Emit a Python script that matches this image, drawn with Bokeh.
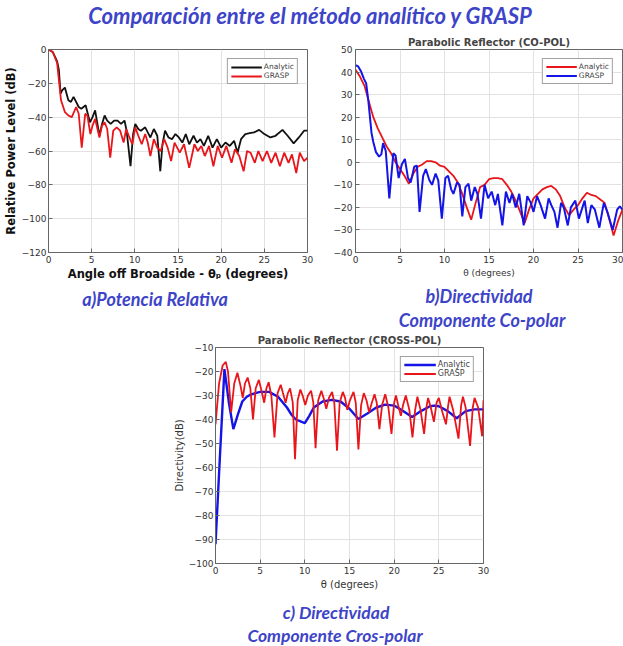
from bokeh.plotting import figure
from bokeh.models import Range1d, FixedTicker, Div, Spacer
from bokeh.layouts import column, row
from bokeh.embed import file_html
from bokeh.resources import INLINE

# ---------------- data ----------------
# (a) Relative power level
a_an_x = [0, 0.5, 1.0, 1.2, 1.4, 1.6, 1.9, 2.3, 2.6, 2.9, 3.2, 3.5, 3.8, 4.3, 4.8, 5.1, 5.4, 5.9, 6.2, 6.5,
          6.8, 7.2, 7.6, 8.0, 8.4, 8.8, 9.05, 9.5, 9.8, 10.05, 10.4, 10.7, 11.2, 11.5, 11.8, 12.2, 12.6, 12.95,
          13.2, 13.5, 13.9, 14.3, 14.7, 15.1, 15.5, 15.9, 16.3, 16.8, 17.2, 17.6, 18.0, 18.5, 19.0, 19.5, 20.0,
          20.5, 21.0, 21.5, 21.9, 22.3, 22.8, 23.3, 23.8, 24.4, 25.0, 25.7, 26.3, 27.1, 27.7, 28.4, 29.0, 29.6, 30.0]
a_an_y = [0, -1.5, -7, -12, -26, -24, -22.5, -30, -31, -28, -31, -34, -35, -33, -43, -40, -36, -51, -44, -39,
          -42, -44, -42, -42, -44, -42, -48, -69, -50, -44, -47, -48, -46, -49, -52, -47, -51, -72,
          -56, -48, -52, -53, -50, -52, -55, -50, -56, -51, -55, -53, -57, -51, -58, -53, -58,
          -55, -57, -54, -61, -53, -50, -49.5, -49, -47.5, -50, -52, -51, -47.5, -51, -55.5, -52, -48, -48]
a_gr_x = [0, 0.5, 1.0, 1.45, 1.9, 2.3, 2.7, 3.2, 3.5, 3.85, 4.25, 4.5, 4.85, 5.1, 5.4, 5.9, 6.2, 6.5, 6.8, 7.15,
          7.5, 7.9, 8.3, 8.7, 9.0, 9.3, 9.7, 10.05, 10.4, 10.8, 11.2, 11.5, 11.8, 12.2, 12.6, 13.0, 13.4, 13.8,
          14.2, 14.6, 15.2, 15.7, 16.3, 16.9, 17.3, 17.7, 18.1, 18.6, 19.1, 19.6, 20.1, 20.6, 21.2, 21.6, 22.1,
          22.6, 23.0, 23.4, 23.9, 24.3, 24.8, 25.3, 25.8, 26.3, 26.8, 27.3, 27.8, 28.2, 28.7, 29.1, 29.6, 30.0]
a_gr_y = [0, -1.5, -8, -30, -37, -39, -40, -34, -38, -58, -38, -39, -50, -45, -41, -52, -45, -43, -47, -64,
          -48, -46, -48, -55, -47, -51, -56, -46, -51, -56, -50, -55, -63, -53, -58, -60, -53, -58,
          -66, -55, -61, -56, -70, -56, -60, -57, -63, -57, -69, -57, -64, -57, -67, -59, -63,
          -72, -60, -61, -67, -60, -66, -60, -67, -61, -69, -61, -67, -62, -73, -61, -66, -64]

# (b) Co-polar directivity
b_an_x = [0, 0.5, 1.0, 1.5, 2.0, 2.5, 3.0, 3.5, 4.0, 4.5, 5.0, 5.5, 6.0, 6.5, 7.0, 7.5, 8.0, 8.5, 9.0, 9.5,
          10.0, 10.5, 11.0, 11.5, 12.0, 12.5, 13.0, 13.5, 14.0, 14.5, 15.0, 15.5, 16.0, 16.5, 17.0, 17.5, 18.0,
          18.5, 19.0, 19.5, 20.0, 20.5, 21.0, 21.5, 22.0, 22.5, 23.0, 23.5, 24.0, 24.5, 25.0, 25.5, 26.0, 26.5,
          27.0, 27.5, 28.0, 28.5, 29.0, 29.5, 30.0]
b_an_y = [41, 38, 34, 27, 20, 15, 11, 7, 4, 0, -3, -6, -9.5, -5, -2, -1, 0.5, 0.5, 0, -1.5,
          -2, -4, -6, -9, -14, -20, -25.5, -18, -11, -10, -7.5, -7, -7, -7.5, -10, -13, -17,
          -22, -27, -21, -16, -14, -12, -11, -10.5, -12, -15, -20, -23.5, -21, -19, -16, -13.5, -14.5,
          -15, -16.5, -18, -25, -32.5, -26, -21]
b_gr_x = [0, 0.3, 0.6, 0.95, 1.2, 1.45, 1.8, 2.0, 2.3, 2.65, 2.9, 3.1, 3.4, 3.8, 4.25, 4.5, 4.85, 5.2, 5.55,
          5.9, 6.2, 6.6, 6.9, 7.2, 7.6, 7.9, 8.3, 8.6, 9.0, 9.3, 9.7, 10.1, 10.4, 10.75, 11.0, 11.4, 11.7, 12.0,
          12.35, 12.7, 13.0, 13.4, 13.7, 14.1, 14.5, 14.9, 15.3, 15.7, 16.0, 16.5, 16.9, 17.3, 17.6, 18.0,
          18.4, 18.9, 19.3, 19.7, 20.0, 20.4, 20.8, 21.3, 21.7, 22.0, 22.35, 22.7, 23.1, 23.4, 23.85, 24.2,
          24.7, 25.1, 25.5, 25.75, 26.1, 26.5, 26.9, 27.4, 27.9, 28.3, 28.9, 29.4, 29.7, 30.0]
b_gr_y = [43, 42.5, 40.5, 37, 35, 27, 13, 9, 4.5, 2.5, 3.5, 8.5, 5, -16, 4, 3, -7, -1, 1.5,
          -7, -9, -2, -1.5, -22, -6, -3, -8, -10, -5, -8, -25, -7, -6, -12, -14, -9, -10, -24,
          -11, -9.5, -17, -11, -14, -25, -10, -16, -13, -19, -14, -28, -13, -18, -14, -20,
          -14, -28, -15, -18, -22, -15, -19, -25, -16, -19, -22, -29, -18, -20, -28, -20,
          -17, -25, -20, -17, -27, -19, -21, -29, -18, -22, -30, -21, -19.5, -21]

# (c) Cross-polar directivity
c_an_x = [0, 0.5, 1.0, 1.5, 2.0, 2.5, 3.0, 3.5, 4.0, 5.0, 6.0, 7.0, 8.0, 8.5, 9.0, 10.0, 10.5, 11.0, 12.0,
          13.0, 14.0, 15.0, 16.0, 17.0, 18.0, 19.0, 20.0, 21.0, 22.0, 23.0, 24.0, 24.5, 25.0, 26.0, 27.0,
          28.0, 29.0, 30.0]
c_an_y = [-92, -55, -19, -33, -44, -38, -32.5, -30.5, -29.5, -28.5, -28.5, -30.5, -35, -38, -40, -41.5,
          -38.5, -35, -32.5, -31.8, -32.5, -35.5, -39.8, -37.5, -35, -33.8, -34.2, -36.5, -39, -36.5, -34.5,
          -34.2, -34.5, -36.5, -39.5, -36.5, -35.8, -35.8]
c_gr_x = [0, 0.4, 0.8, 1.15, 1.4, 1.75, 2.1, 2.45, 2.8, 3.05, 3.3, 3.6, 3.9, 4.2, 4.5, 4.85, 5.15, 5.45,
          5.7, 5.95, 6.25, 6.6, 6.95, 7.3, 7.55, 7.85, 8.1, 8.35, 8.65, 8.9, 9.2, 9.5, 9.75, 10.05, 10.35,
          10.7, 10.95, 11.2, 11.5, 11.85, 12.1, 12.4, 12.7, 13.05, 13.3, 13.6, 13.9, 14.25, 14.5, 14.75,
          15.05, 15.45, 15.7, 16.0, 16.3, 16.6, 16.9, 17.2, 17.5, 17.8, 18.05, 18.35, 18.65, 19.0, 19.35,
          19.7, 20.0, 20.2, 20.45, 20.75, 21.0, 21.3, 21.7, 22.05, 22.35, 22.6, 22.95, 23.35, 23.65, 23.8,
          24.1, 24.45, 24.75, 25.0, 25.4, 25.8, 26.05, 26.2, 26.6, 27.2, 27.5, 27.7, 28.0, 28.5, 28.8,
          29.0, 29.4, 29.85, 30.0]
c_gr_y = [-42, -25, -17.5, -16, -20, -37, -25, -20.5, -26, -31, -25, -22.5, -27, -40, -27, -23.5, -28, -33,
          -27, -24.5, -30, -47.5, -29, -25.5, -29, -33, -29, -27, -33, -56.5, -32, -27.5, -30, -34, -30,
          -28, -33, -52, -32, -28, -31, -35.5, -31, -28.5, -33, -53, -33, -28.5, -31, -36,
          -32, -28.5, -33, -52.5, -34, -29, -32, -37, -33, -29.5, -33, -44, -34, -29.5, -35,
          -46, -33, -30, -34, -38.5, -34, -30, -36, -47.5, -36, -30.5, -36, -46, -34, -31,
          -35, -41, -33, -31, -37, -42, -34, -30.5, -36, -48, -34, -30.5, -35, -51, -35,
          -31, -35, -47, -32]

x_ticks = [0, 5, 10, 15, 20, 25, 30]
a_yticks = [-120, -100, -80, -60, -40, -20, 0]
b_yticks = [-40, -30, -20, -10, 0, 10, 20, 30, 40, 50]
c_yticks = [-100, -90, -80, -70, -60, -50, -40, -30, -20, -10]

RED = "#e8161b"
BLUE = "#1414e6"
BLACK = "#111111"
CAP = "#3d44c8"
FONT = "DejaVu Sans"


def make_fig(width, height, yr, yticks, left, right, top, bottom):
    p = figure(width=width, height=height, x_range=Range1d(0, 30), y_range=Range1d(*yr),
               output_backend="svg", toolbar_location=None, tools="",
               min_border_left=left, min_border_right=right,
               min_border_top=top, min_border_bottom=bottom)
    p.xaxis.ticker = FixedTicker(ticks=x_ticks)
    p.yaxis.ticker = FixedTicker(ticks=yticks)
    p.grid.grid_line_color = "#e2e2e2"
    p.grid.grid_line_width = 1
    p.axis.major_tick_in = 4
    p.axis.major_tick_out = 0
    p.axis.minor_tick_line_color = None
    p.axis.axis_line_color = "#666666"
    p.axis.major_tick_line_color = "#666666"
    p.axis.major_label_text_font = FONT
    p.axis.major_label_text_font_size = "9px"
    p.axis.major_label_text_color = "#333333"
    p.axis.major_label_standoff = 3
    p.axis.axis_label_text_font = FONT
    p.axis.axis_label_text_font_style = "normal"
    p.axis.axis_label_standoff = 2
    p.outline_line_color = "#666666"
    p.outline_line_width = 1
    p.background_fill_color = "white"
    p.border_fill_color = "white"
    return p


def style_legend(p, margin, font="7px", lh=8, gw=30):
    lg = p.legend[0]
    lg.location = "top_right"
    lg.margin = margin
    lg.padding = 3
    lg.spacing = 0
    lg.label_text_font = FONT
    lg.label_text_font_size = font
    lg.label_height = lh
    lg.glyph_height = lh
    lg.glyph_width = gw
    lg.label_standoff = 2
    lg.border_line_color = "#444444"
    lg.border_line_width = 1
    lg.background_fill_color = "white"
    lg.background_fill_alpha = 1


# ---------------- figure a ----------------
fa = make_fig(320, 255, (-120, 0), a_yticks, 48, 13, 19, 33)
fa.line(a_an_x, a_an_y, line_color=BLACK, line_width=1.8, legend_label="Analytic")
fa.line(a_gr_x, a_gr_y, line_color=RED, line_width=1.8, legend_label="GRASP")
fa.xaxis.axis_label = "Angle off Broadside - θₚ (degrees)"
fa.yaxis.axis_label = "Relative Power Level (dB)"
fa.axis.axis_label_text_font_style = "bold"
fa.axis.axis_label_text_font_size = "11.5px"
fa.axis.axis_label_text_color = "#111111"
fa.xaxis.axis_label_standoff = 1
fa.yaxis.axis_label_standoff = 1
fa.yaxis.major_label_standoff = 2
style_legend(fa, 9, "7.5px", 8, 31)

# ---------------- figure b ----------------
fb = make_fig(303, 255, (-40, 50), b_yticks, 35, 1, 17, 32)
fb.line(b_an_x, b_an_y, line_color=RED, line_width=1.8, legend_label="Analytic")
fb.line(b_gr_x, b_gr_y, line_color=BLUE, line_width=2.0, legend_label="GRASP")
fb.title.text = "Parabolic Reflector (CO-POL)"
fb.title.align = "center"
fb.title.text_font = FONT
fb.title.text_font_size = "10px"
fb.title.text_font_style = "bold"
fb.title.standoff = 4
fb.xaxis.axis_label = "θ (degrees)"
fb.xaxis.axis_label_text_font_size = "9px"
fb.xaxis.axis_label_text_color = "#333333"
fb.xaxis.axis_label_standoff = 2
style_legend(fb, 9, "7.5px", 9, 31)

# ---------------- figure c ----------------
fc = make_fig(325, 265, (-100, -10), c_yticks, 43, 12, 17, 32)
fc.line(c_an_x, c_an_y, line_color=BLUE, line_width=2.4, legend_label="Analytic")
fc.line(c_gr_x, c_gr_y, line_color=RED, line_width=1.8, legend_label="GRASP")
fc.title.text = "Parabolic Reflector (CROSS-POL)"
fc.title.align = "center"
fc.title.text_font = FONT
fc.title.text_font_size = "10px"
fc.title.text_font_style = "bold"
fc.title.standoff = 3
fc.xaxis.axis_label = "θ (degrees)"
fc.yaxis.axis_label = "Directivity(dB)"
fc.axis.axis_label_text_font_size = "10px"
fc.axis.axis_label_text_color = "#333333"
fc.xaxis.axis_label_standoff = 2
fc.yaxis.axis_label_standoff = 1
fc.yaxis.major_label_standoff = 2
style_legend(fc, 9, "8px", 9, 32)

# ---------------- texts ----------------
def span(txt, cx, top, size):
    return (f'<div style="position:absolute;left:{cx}px;top:{top}px;transform:translateX(-50%);'
            f'white-space:nowrap;font-family:Lato;font-style:italic;font-weight:bold;'
            f'font-size:{size}px;line-height:1.1;color:{CAP};">{txt}</div>')


def box(inner, w, h):
    return f'<div style="position:relative;width:{w}px;height:{h}px;overflow:visible;">{inner}</div>'


title_div = Div(text=box(span("Comparación entre el método analítico y GRASP", 310, 4, 22), 623, 30),
                width=623, height=30, margin=0, styles={"overflow": "visible"})
cap_ab = Div(text=box(span("a)Potencia Relativa", 155, 5, 18) +
                      span("b)Directividad", 479, 2, 18) +
                      span("Componente Co-polar", 482, 26, 18), 623, 45),
             width=623, height=45, margin=0, styles={"overflow": "visible"})
cap_c = Div(text=box(span("c) Directividad", 336, 8, 17.5) +
                     span("Componente Cros-polar", 335, 31, 17.5), 623, 51),
            width=623, height=51, margin=0, styles={"overflow": "visible"})

layout = column(
    title_div,
    row(fa, fb),
    cap_ab,
    row(Spacer(width=170, height=265), fc),
    cap_c,
)

open("out.html", "w").write(file_html(layout, INLINE))
